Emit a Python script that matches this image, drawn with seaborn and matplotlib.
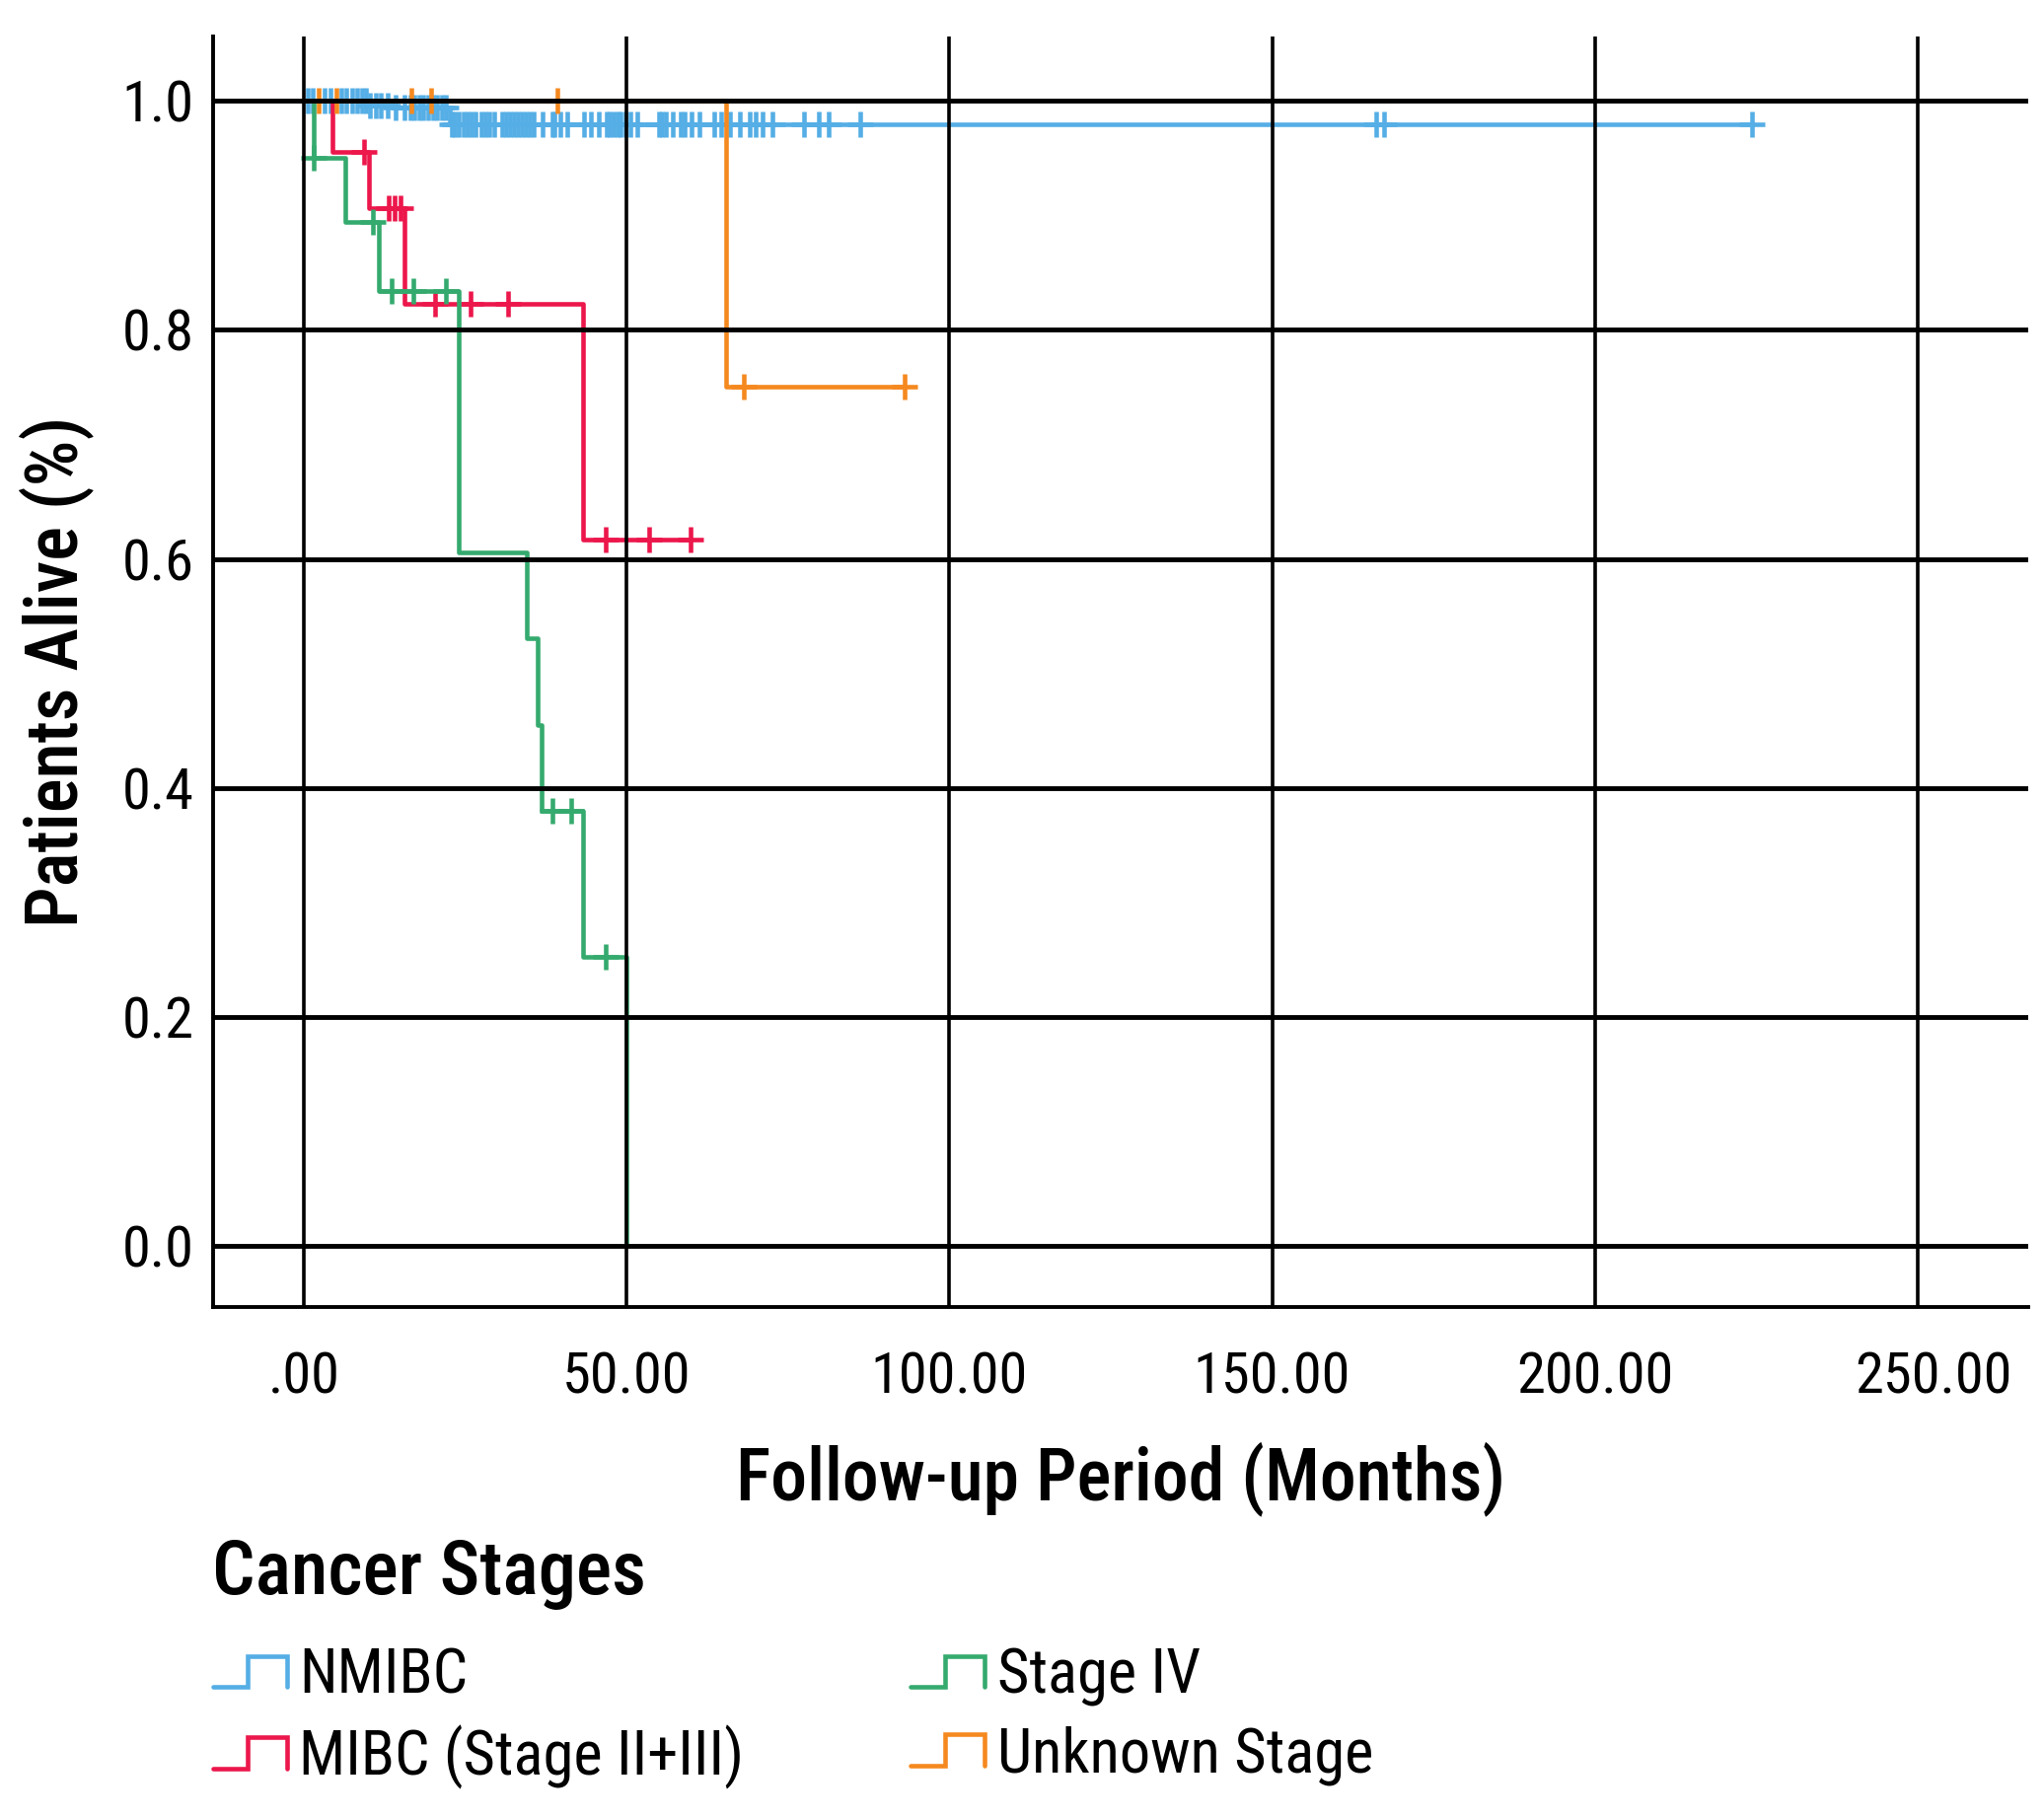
import numpy as np
import pandas as pd
import matplotlib
matplotlib.use("Agg")
import matplotlib.pyplot as plt
import matplotlib.ticker as ticker
import matplotlib.transforms as mtrans
import seaborn as sns
from matplotlib.lines import Line2D
from matplotlib.legend_handler import HandlerBase

stages = ["NMIBC", "MIBC (Stage II+III)", "Stage IV", "Unknown Stage"]
colors = ["#55AEE5", "#EC174B", "#35AA6E", "#F5891F"]

# Kaplan-Meier steps: time of each drop and survival after it
nmibc_t = [0.0, 9.9, 13.7, 22.6, 224.4]
nmibc_s = [1.0, 0.9954, 0.994, 0.979, 0.979]
mibc_t = [0.0, 4.3, 10.0, 15.5, 43.2, 59.8]
mibc_s = [1.0, 0.955, 0.906, 0.823, 0.617, 0.617]
stage4_t = [0.0, 1.4, 6.3, 11.5, 24.0, 34.5, 36.1, 36.8, 43.2, 50.0]
stage4_s = [1.0, 0.95, 0.894, 0.834, 0.606, 0.531, 0.455, 0.380, 0.253, 0.0]
unknown_t = [0.0, 65.3, 93.1]
unknown_s = [1.0, 0.75, 0.75]

# censored follow-up times (months)
nmibc_cens = [0.6, 1.35, 3.15, 4.0, 5.7, 6.5, 7.4, 8.2, 9.0, 9.5,
              10.2, 11.1, 11.9, 12.9,
              14.1, 15.6, 16.4, 17.1, 17.8, 18.5, 19.2, 19.9, 20.6, 21.3, 22.0,
              22.8, 23.4, 24.0, 24.7, 25.3, 25.9, 26.6, 27.4, 28.0, 28.7, 29.4,
              30.7, 31.3, 31.9, 32.5, 33.1, 33.7, 34.3, 34.9, 35.6, 36.9, 38.4, 38.7,
              39.7, 40.8, 43.3, 44.4, 45.6, 46.9, 47.4, 47.9, 48.5, 49.0, 49.7, 50.5,
              51.6, 54.9, 55.5, 56.1, 57.1, 58.3, 58.9, 60.0, 61.3, 63.6, 64.6, 66.0,
              67.5, 69.0, 70.0, 71.1, 72.5, 77.4, 79.7, 81.3, 86.1, 166.2, 167.3, 224.4]
mibc_cens = [9.3, 13.1, 14.0, 14.9, 20.2, 25.7, 31.6, 46.7, 53.4, 59.8]
stage4_cens = [1.4, 10.6, 13.5, 16.9, 22.0, 38.4, 41.4, 46.7]
unknown_cens = [2.2, 5.0, 16.6, 19.6, 39.2, 68.1, 93.1]

curves = [(nmibc_t, nmibc_s, nmibc_cens),
          (mibc_t, mibc_s, mibc_cens),
          (stage4_t, stage4_s, stage4_cens),
          (unknown_t, unknown_s, unknown_cens)]

x_ticks = [0, 50, 100, 150, 200, 250]
y_ticks = [0.0, 0.2, 0.4, 0.6, 0.8, 1.0]


def surv_at(times, surv, t):
    idx = np.searchsorted(times, t, side="right") - 1
    return np.asarray(surv)[idx]


class StepHandler(HandlerBase):
    def create_artists(self, legend, orig_handle, xdescent, ydescent,
                       width, height, fontsize, trans):
        x0, y0 = -xdescent, -ydescent
        xs = [x0, x0 + 0.47 * width, x0 + 0.47 * width, x0 + width, x0 + width]
        ys = [y0, y0, y0 + height, y0 + height, y0]
        ln = Line2D(xs, ys, color=orig_handle.get_color(),
                    linewidth=orig_handle.get_linewidth(),
                    solid_joinstyle="miter")
        ln.set_transform(trans)
        return [ln]


sns.set_style("white")
plt.rcParams["font.family"] = ["Roboto Condensed", "DejaVu Sans"]
plt.rcParams["text.color"] = "black"
plt.rcParams["axes.labelcolor"] = "black"
plt.rcParams["xtick.color"] = "black"
plt.rcParams["ytick.color"] = "black"

fig = plt.figure(figsize=(20.72, 18.42), dpi=100)
ax = fig.add_axes([0.1042, 0.2807, 0.8881, 0.6992])

LW = 3.3
for (t, s, cens), name, col in zip(curves, stages, colors):
    df = pd.DataFrame({"time": t, "surv": s})
    sns.lineplot(data=df, x="time", y="surv", color=col, linewidth=LW,
                 drawstyle="steps-post", estimator=None, ax=ax, zorder=2)
    cdf = pd.DataFrame({"time": cens, "surv": surv_at(t, s, cens)})
    sns.scatterplot(data=cdf, x="time", y="surv", color=col, marker="+",
                    s=340, linewidth=LW, ax=ax, zorder=2)

ax.set_xlim(-14.15, 267.2)
ax.set_ylim(-0.053, 1.056)
ax.set_xticks(x_ticks)
ax.set_yticks(y_ticks)
ax.xaxis.set_major_formatter(ticker.FuncFormatter(
    lambda v, p: ".00" if v == 0 else f"{v:.2f}"))
ax.yaxis.set_major_formatter(ticker.FuncFormatter(lambda v, p: f"{v:.1f}"))

# reference lines sit on top of the curves
ax.yaxis.grid(True, color="black", linewidth=3.5)
ax.xaxis.grid(True, color="black", linewidth=2.6)
ax.set_axisbelow(False)
for side in ["top", "right"]:
    ax.spines[side].set_visible(False)
for side in ["left", "bottom"]:
    ax.spines[side].set_color("black")
    ax.spines[side].set_linewidth(2.8)

ax.tick_params(axis="both", direction="out", length=4, width=2,
               labelsize=42)
ax.tick_params(axis="x", pad=28)
ax.tick_params(axis="y", pad=10)

ax.set_xlabel("Follow-up Period (Months)", fontsize=53, fontweight="medium")
ax.set_ylabel("Patients Alive (%)", fontsize=53, fontweight="medium")
ax.xaxis.set_label_coords(0.5, -0.106)
ax.yaxis.set_label_coords(-0.0656, 0.5)

# the last x label sits a little to the right, as in the original
last = ax.xaxis.get_major_ticks()[-1].label1
last.set_transform(last.get_transform()
                   + mtrans.ScaledTranslation(0.16, 0, fig.dpi_scale_trans))

fig.text(0.1038, 1 - 1616 / 1842, "Cancer Stages", fontsize=55,
         fontweight="medium", ha="left", va="baseline")

handles = [Line2D([], [], color=c, linewidth=LW) for c in colors]
fig.legend(handles, stages, loc="upper left", bbox_to_anchor=(0.1042, 0.0934),
           ncol=2, frameon=False, fontsize=45,
           handler_map={Line2D: StepHandler()},
           handlelength=1.2, handleheight=0.4, handletextpad=0.2,
           columnspacing=2.7, labelspacing=0.3, borderpad=0,
           borderaxespad=0)

fig.savefig("out.png", dpi=100)
